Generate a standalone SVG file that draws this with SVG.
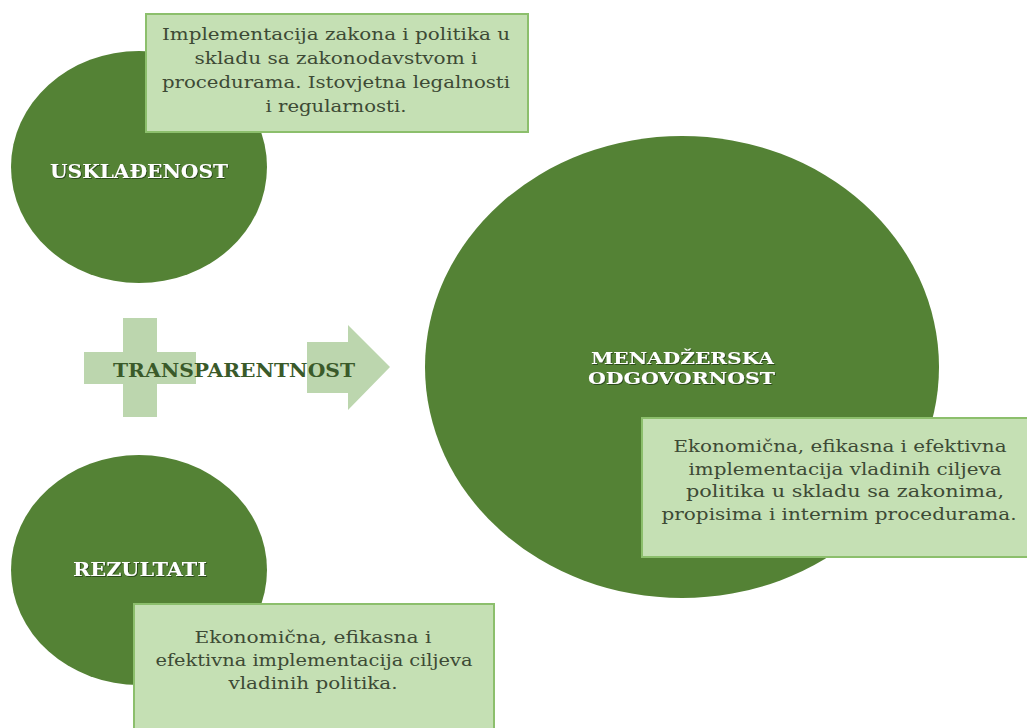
<svg xmlns="http://www.w3.org/2000/svg" width="1027" height="728" viewBox="0 0 1027 728">
<defs>
<style>
.circ{fill:#548235;}
.box{fill:#c5e0b4;stroke:#8cbf6c;stroke-width:2;}
.shape{fill:#bcd6ae;}
.body{font-family:"DejaVu Serif","Liberation Serif",serif;font-size:16px;fill:#3d4a35;text-anchor:middle;}
.title{font-family:"DejaVu Serif","Liberation Serif",serif;font-size:19px;font-weight:bold;fill:#ffffff;text-anchor:middle;filter:url(#sh);}
.title2{font-family:"DejaVu Serif","Liberation Serif",serif;font-size:17px;font-weight:bold;fill:#ffffff;text-anchor:middle;filter:url(#sh);}
.trans{font-family:"DejaVu Serif","Liberation Serif",serif;font-size:19px;font-weight:bold;fill:#3a5a2a;text-anchor:middle;}
</style>
<filter id="sh" x="-10%" y="-30%" width="120%" height="160%">
<feDropShadow dx="1" dy="1" stdDeviation="0.6" flood-color="#1e3312" flood-opacity="0.7"/>
</filter>
</defs>
<rect width="1027" height="728" fill="#ffffff"/>

<g id="usklađenost">
<ellipse class="circ" cx="139" cy="167" rx="128" ry="116"/>
<text class="title" x="139" y="178" textLength="178" lengthAdjust="spacingAndGlyphs">USKLAĐENOST</text>
</g>

<g id="usklađenost-opis">
<rect class="box" x="146" y="14" width="382" height="118"/>
<text class="body" x="336" y="40" textLength="348" lengthAdjust="spacingAndGlyphs">Implementacija zakona i politika u</text>
<text class="body" x="336" y="64" textLength="283" lengthAdjust="spacingAndGlyphs">skladu sa zakonodavstvom i</text>
<text class="body" x="336" y="88" textLength="348" lengthAdjust="spacingAndGlyphs">procedurama. Istovjetna legalnosti</text>
<text class="body" x="336" y="112" textLength="141" lengthAdjust="spacingAndGlyphs">i regularnosti.</text>
</g>

<g id="rezultati">
<ellipse class="circ" cx="139" cy="570" rx="128" ry="115"/>
<text class="title" x="140" y="576" textLength="134" lengthAdjust="spacingAndGlyphs">REZULTATI</text>
</g>

<g id="rezultati-opis">
<rect class="box" x="134" y="604" width="360" height="130"/>
<text class="body" x="313" y="643" textLength="237" lengthAdjust="spacingAndGlyphs">Ekonomična, efikasna i</text>
<text class="body" x="314" y="666" textLength="317" lengthAdjust="spacingAndGlyphs">efektivna implementacija ciljeva</text>
<text class="body" x="313" y="689" textLength="169" lengthAdjust="spacingAndGlyphs">vladinih politika.</text>
</g>

<g id="transparentnost">
<path class="shape" d="M123,318 H157 V352 H196 V384 H157 V417 H123 V384 H84 V352 H123 Z"/>
<path class="shape" d="M307,342 H348 V325 L390,367 L348,410 V393 H307 Z"/>
<text class="trans" x="234" y="377" textLength="242" lengthAdjust="spacingAndGlyphs">TRANSPARENTNOST</text>
</g>

<g id="menadzerska-odgovornost">
<ellipse class="circ" cx="682" cy="367" rx="257" ry="231"/>
<text class="title2" x="682.5" y="364" textLength="183" lengthAdjust="spacingAndGlyphs">MENADŽERSKA</text>
<text class="title2" x="681.5" y="384" textLength="187" lengthAdjust="spacingAndGlyphs">ODGOVORNOST</text>
</g>

<g id="menadzerska-opis">
<rect class="box" x="642" y="418" width="390" height="139"/>
<text class="body" x="840" y="452" textLength="333" lengthAdjust="spacingAndGlyphs">Ekonomična, efikasna i efektivna</text>
<text class="body" x="845" y="475" textLength="313" lengthAdjust="spacingAndGlyphs">implementacija vladinih ciljeva</text>
<text class="body" x="845" y="497" textLength="318" lengthAdjust="spacingAndGlyphs">politika u skladu sa zakonima,</text>
<text class="body" x="839" y="520" textLength="355" lengthAdjust="spacingAndGlyphs">propisima i internim procedurama.</text>
</g>

<g id="connectors"></g>
</svg>
